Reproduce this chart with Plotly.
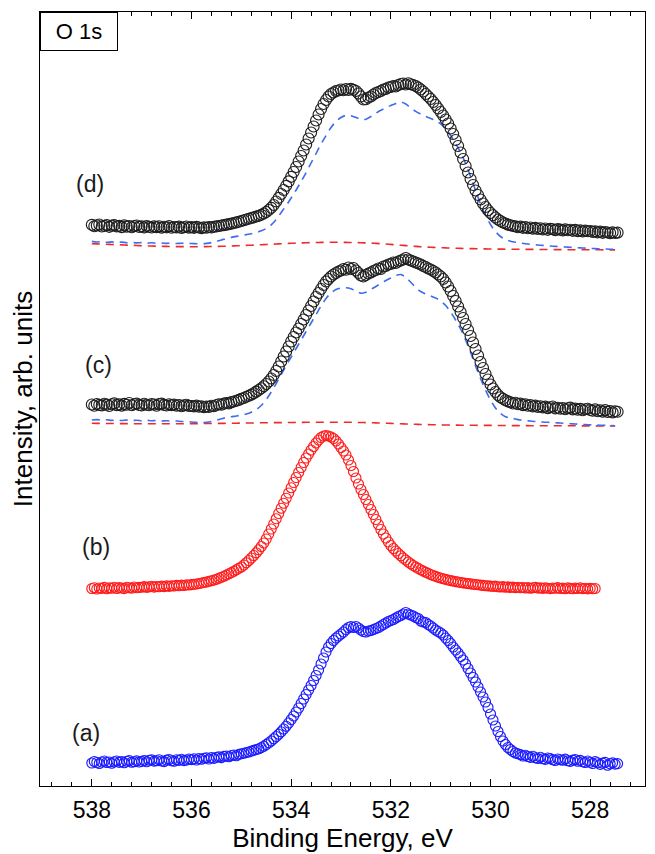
import plotly.graph_objects as go

# ---------------- data (binding energy in eV, intensity in arb. units) ----------------
E_START = 538.0
MARKER_STEP = 0.05
LINE_STEP = 0.1

# (a) blue spectrum
spec_a = [
    37, 38.5, 37.5, 36.5, 38, 39, 37.5, 38, 36.8, 38.2, 39, 37.6, 38.4, 37.2, 38.8, 39.4, 37.8, 38.3, 39.1, 38.0,
    38.6, 39.5, 38.2, 39.8, 40.1, 38.9, 39.3, 40.2, 39.0, 38.4, 39.9, 40.5, 39.2, 38.8, 40.3, 39.6, 40.8, 39.4, 40.0, 41.0,
    40.4, 41.2, 40.0, 41.5, 40.7, 41.8, 42.2, 41.0, 42.5, 41.6, 42.8, 43.2, 42.4, 43.6, 44.0, 43.3, 44.5, 45.0, 44.2, 45.6,
    46.2, 46.8, 47.5, 48.0, 48.9, 49.6, 50.5, 51.2, 52.4, 53.8, 55.5, 57.2, 59.0, 61.2, 63.5, 65.8, 68.2, 71.0, 73.8, 77.0,
    80.5, 84.0, 88.0, 92.0, 96.5, 101, 105.5, 110, 114.5, 119.5, 124.5, 130, 136, 142, 148, 153, 156.5, 159.5, 162, 164,
    166, 168, 170.5, 172.5, 173.5, 172.5, 173.5, 172, 170, 168.5, 168, 169, 169.5, 170.5, 171.5, 172.5, 174, 175.5, 177, 178.5,
    179.5, 180.5, 182, 183.5, 184.5, 186, 187.5, 186, 185, 184, 182.5, 181.5, 179, 178, 177.5, 175.5, 174, 172, 170, 168.5,
    167, 165, 162, 159.5, 156.5, 153, 150, 147, 143.5, 140, 136, 131.5, 127, 122.5, 118, 113, 108, 103, 98, 92.5,
    86, 80, 74, 68.5, 63.5, 59, 55.5, 52.5, 50.5, 48.5, 47.0, 46.2, 45.4, 44.0, 44.8, 43.5, 42.6, 43.8, 42.2, 41.5,
    42.8, 41.2, 40.6, 42.0, 41.4, 40.2, 39.5, 41.0, 40.3, 39.8, 40.9, 39.2, 38.6, 39.9, 40.4, 38.8, 39.6, 38.2, 37.5, 39.0,
    37.8, 36.5, 38.4, 37.2, 35.6, 36.9, 37.6, 34.8, 36.2, 37.1, 35.9, 36.4,
]

# (b) red spectrum
spec_b = [
    211.5, 212.3, 211.0, 212.0, 211.6, 212.6, 211.3, 212.1, 211.8, 212.8, 211.5, 212.4, 212.0, 211.4, 212.7, 212.2, 211.9, 213.0, 212.3, 212.6,
    212.8, 213.4, 212.6, 213.1, 213.7, 212.9, 213.5, 213.2, 213.9, 213.4, 214.1, 213.6, 214.3, 214.0, 214.6, 214.2, 214.9, 214.5, 215.2, 215.0,
    215.4, 215.7, 216.0, 216.5, 217.0, 217.5, 218.0, 218.7, 219.3, 220.0, 220.8, 221.8, 222.8, 223.8, 225.0, 226.2, 227.4, 228.8, 230.2, 231.8,
    233.0, 235, 237.2, 239.5, 242, 244.5, 247.2, 250.2, 253.5, 257, 261, 266, 271, 276, 281.2, 286.5, 291.8, 296.8, 301.8, 307,
    312.3, 317.5, 322.5, 327.5, 332.5, 337.5, 342, 346, 350, 353.5, 357, 360, 362.5, 364, 364.5, 364, 363, 361.5, 359, 356,
    352.5, 349, 345, 340, 334.5, 328.5, 322, 316, 310.5, 305.5, 300.5, 295.5, 290.5, 285.5, 280.5, 275.5, 270.5, 266, 262, 258,
    254.5, 251.5, 249, 246.5, 244.2, 242, 240, 238, 236.2, 234.5, 233, 231.6, 230.2, 229, 227.8, 226.6, 225.5, 224.5, 223.6, 222.8,
    222.0, 221.3, 220.6, 220.0, 219.4, 218.9, 218.4, 218.0, 217.5, 217.1, 216.8, 216.4, 216.1, 215.8, 215.5, 215.2, 214.9, 214.6, 214.3, 214.1,
    213.9, 213.6, 213.9, 213.3, 213.0, 213.4, 212.8, 213.1, 212.6, 212.9, 212.4, 212.7, 212.2, 212.5, 212.0, 212.4, 211.8, 212.2, 212.6, 211.9,
    212.1, 211.6, 212.3, 211.8, 211.4, 212.0, 211.7, 212.4, 211.5, 211.9, 211.3, 212.1, 211.6, 211.2, 211.9, 211.5, 212.2, 211.4, 211.8, 211.1,
    211.6, 211.2, 211.5,
]

# (c) black spectrum
spec_c = [
    395.5, 394.2, 396.0, 395.1, 394.6, 396.3, 395.4, 394.0, 395.8, 396.6, 394.9, 395.6, 394.4, 396.1, 395.2, 397.0, 394.8, 395.7, 396.4, 395.0,
    394.6, 396.2, 395.3, 394.7, 396.0, 395.5, 394.3, 395.9, 396.4, 395.1, 394.5, 395.8, 394.9, 395.4, 394.2, 395.0, 393.8, 394.6, 395.3, 394.1,
    394.0, 393.6, 394.4, 393.2, 393.8, 392.9, 393.5, 393.1, 394.2, 393.7, 395.0, 395.8, 395.2, 396.4, 397.0, 396.6, 397.9, 398.5, 399.2, 400.1,
    401.2, 402.0, 403.2, 404.2, 405.4, 406.8, 408.4, 410.0, 411.8, 413.8, 416.0, 418.5, 421.5, 425.0, 429.0, 433.5, 438.5, 443.5, 448.5, 453.5,
    458.5, 463, 467.5, 471.5, 476, 480.5, 485, 489.5, 494, 498.5, 503, 507, 511, 515, 518.5, 521, 523.5, 525.5, 527, 528.5,
    529.5, 531, 530.2, 532.5, 531, 532, 529.5, 527, 524.5, 523.5, 525, 526.5, 527.5, 529, 530, 531.5, 531, 533.5, 534, 535.5,
    536, 537.5, 537, 538.5, 539.5, 540.5, 542, 540.5, 539.5, 538.5, 537.5, 536.5, 535.5, 534, 533, 531.5, 530.5, 529, 527.5, 525.5,
    523.5, 521, 517.5, 513.5, 509, 504, 499, 493.5, 488, 482, 476, 470, 464, 457.5, 451, 444.5, 438, 432, 426, 420.5,
    415.5, 411.5, 408, 405, 402.8, 401.2, 399.8, 398.6, 397.8, 396.5, 397.2, 395.8, 396.4, 394.9, 395.6, 394.3, 395.0, 393.6, 394.4, 393.0,
    393.8, 392.6, 393.4, 391.9, 392.8, 393.5, 391.6, 392.3, 391.2, 392.0, 390.8, 391.7, 392.4, 390.6, 391.4, 390.2, 391.1, 389.8, 390.7, 391.3,
    390.0, 389.2, 390.6, 388.8, 389.6, 388.4, 389.9, 388.1, 389.0, 387.6, 388.7, 388.2,
]

# (c) fit components (dashed)
fit_c_blue = [
    380.0, 380.4, 379.8, 380.2, 379.6, 380.0, 379.5, 379.9, 379.4, 379.8,
    379.3, 379.7, 379.2, 379.5, 379.0, 379.3, 378.8, 379.0, 378.5, 378.6,
    378.0, 377.6, 377.4, 377.8, 378.6, 379.8, 381.2, 382.5, 383.3, 384.0,
    384.8, 386.0, 387.8, 390.4, 394.5, 400.5, 408.0, 416.5, 425.5, 434.5,
    443.0, 451.5, 460.0, 468.5, 477.0, 485.5, 494.0, 501.5, 507.0, 510.5,
    512.0, 512.2, 511.2, 509.0, 506.8, 507.8, 510.5, 513.5, 516.5, 519.5,
    522.0, 524.5, 525.5, 522.5, 517.8, 512.5, 508.5, 506.0, 504.0, 502.0,
    499.0, 494.5, 488.0, 480.0, 471.0, 460.0, 447.5, 434.0, 421.5, 410.0,
    400.0, 392.0, 386.5, 383.3, 382.0, 381.0, 380.0, 379.4, 379.0, 378.5,
    378.2, 377.8, 377.6, 377.2, 377.0, 376.6, 376.3, 376.0, 375.7, 375.4,
    375.2, 375.0, 374.8, 374.6, 374.4, 374.3,
]
fit_c_red = [
    376.7, 376.6, 376.6, 376.5, 376.5, 376.4, 376.4, 376.4, 376.3, 376.3,
    376.3, 376.2, 376.2, 376.2, 376.2, 376.2, 376.2, 376.2, 376.3, 376.3,
    376.3, 376.4, 376.4, 376.5, 376.5, 376.6, 376.6, 376.7, 376.8, 376.8,
    376.9, 377.0, 377.0, 377.1, 377.2, 377.2, 377.3, 377.4, 377.4, 377.5,
    377.5, 377.6, 377.6, 377.7, 377.7, 377.7, 377.8, 377.8, 377.8, 377.8,
    377.8, 377.7, 377.7, 377.6, 377.5, 377.4, 377.3, 377.1, 377.0, 376.8,
    376.6, 376.4, 376.2, 376.0, 375.8, 375.7, 375.5, 375.4, 375.3, 375.2,
    375.1, 375.0, 374.9, 374.9, 374.8, 374.8, 374.7, 374.7, 374.6, 374.6,
    374.6, 374.5, 374.5, 374.5, 374.4, 374.4, 374.4, 374.4, 374.3, 374.3,
    374.3, 374.3, 374.3, 374.2, 374.2, 374.2, 374.2, 374.2, 374.1, 374.1,
    374.1, 374.1, 374.0, 374.0, 374.0, 374.0,
]

# (d) black spectrum
spec_d = [
    575.2, 573.8, 574.6, 575.5, 573.5, 574.2, 574.9, 573.2, 574.4, 575.0, 573.6, 574.1, 572.9, 574.7, 573.4, 574.0, 572.8, 573.9, 574.5, 573.1,
    573.7, 572.6, 574.0, 573.2, 572.5, 573.6, 572.9, 573.8, 572.4, 573.3, 572.7, 573.9, 572.3, 573.0, 572.6, 573.4, 572.1, 572.8, 573.5, 572.4,
    572.9, 572.2, 573.1, 572.5, 571.9, 572.8, 572.3, 573.0, 572.6, 573.3, 573.6, 574.0, 574.5, 574.9, 575.4, 575.9, 576.4, 577.0, 577.6, 578.3,
    579.0, 579.8, 580.5, 581.3, 582.0, 582.7, 583.5, 584.2, 585.2, 586.5, 588.0, 590.0, 592.2, 595.0, 598.5, 602.2, 606.0, 610.0, 614.2, 618.6,
    623.2, 628, 633, 638.5, 644, 649.5, 655.5, 661.5, 667.5, 673.5, 679.5, 685.5, 691, 696, 700, 703.5, 706, 707.5, 709, 709.5,
    710.5, 709.8, 711, 710, 711.2, 710.2, 709, 706.5, 703.5, 700.5, 700.8, 702.5, 703.5, 705.5, 707, 708, 709, 710.5, 711, 712.5,
    713, 714, 713.5, 715, 716, 716.5, 715.5, 716.8, 715.8, 715, 714, 712.5, 710.5, 708.5, 706, 703.5, 701, 698, 695, 691.5,
    688, 684.5, 680.5, 676.5, 671.5, 666, 660, 654, 647.5, 641, 634, 627.5, 621, 615, 609.5, 605, 600.5, 596.5, 593, 589.8,
    587, 584.8, 582.5, 580.5, 579, 577.5, 576.5, 575.4, 574.8, 574.0, 573.6, 572.8, 573.4, 572.2, 572.9, 571.8, 572.5, 571.4, 572.1, 571.0,
    571.8, 570.6, 571.5, 570.2, 571.2, 570.8, 569.9, 571.0, 570.4, 569.6, 570.7, 569.8, 570.3, 569.2, 570.1, 568.9, 569.7, 568.6, 569.4, 568.8,
    569.0, 568.1, 568.7, 567.6, 568.4, 567.2, 568.0, 567.5, 566.9, 567.8, 567.0, 567.4,
]

# (d) fit components (dashed)
fit_d_blue = [
    558.6, 558.0, 558.4, 557.7, 558.1, 557.5, 557.9, 557.3, 557.6, 557.1,
    557.4, 556.9, 557.2, 556.7, 557.0, 556.6, 556.9, 556.5, 556.7, 556.4,
    556.5, 556.3, 556.2, 556.6, 557.4, 558.6, 560.0, 561.5, 562.6, 563.6,
    564.5, 565.4, 566.3, 567.5, 569.2, 571.6, 575.2, 580.5, 587.5, 594.5,
    602.0, 610.0, 618.5, 627.5, 637.0, 646.5, 656.0, 664.5, 672.5, 678.5,
    682.5, 684.6, 684.2, 682.5, 680.6, 680.8, 683.5, 686.8, 689.8, 692.2,
    694.5, 696.6, 698.0, 696.0, 692.0, 688.6, 686.0, 683.6, 681.5, 679.5,
    676.0, 671.0, 664.5, 656.5, 647.5, 636.5, 623.5, 609.5, 596.0, 584.5,
    575.5, 568.5, 563.5, 560.5, 558.8, 557.8, 557.0, 556.3, 555.7, 555.2,
    554.8, 554.4, 554.0, 553.6, 553.3, 553.0, 552.7, 552.4, 552.1, 551.9,
    551.6, 551.4, 551.2, 551.0, 550.8, 550.7,
]
fit_d_red = [
    556.3, 556.1, 555.9, 555.7, 555.5, 555.3, 555.1, 554.9, 554.7, 554.5,
    554.3, 554.1, 554.0, 553.8, 553.7, 553.6, 553.5, 553.4, 553.4, 553.3,
    553.3, 553.3, 553.3, 553.4, 553.5, 553.6, 553.7, 553.8, 554.0, 554.2,
    554.4, 554.6, 554.8, 555.0, 555.3, 555.5, 555.8, 556.0, 556.3, 556.5,
    556.7, 556.9, 557.1, 557.3, 557.4, 557.5, 557.6, 557.7, 557.7, 557.7,
    557.7, 557.6, 557.5, 557.4, 557.3, 557.1, 556.9, 556.6, 556.3, 556.0,
    555.6, 555.2, 554.8, 554.4, 554.0, 553.6, 553.3, 553.0, 552.7, 552.5,
    552.3, 552.1, 551.9, 551.8, 551.6, 551.5, 551.4, 551.3, 551.2, 551.1,
    551.0, 550.9, 550.9, 550.8, 550.8, 550.7, 550.7, 550.6, 550.6, 550.6,
    550.5, 550.5, 550.5, 550.4, 550.4, 550.4, 550.3, 550.3, 550.3, 550.3,
    550.2, 550.2, 550.2, 550.1, 550.1, 550.1,
]

panel_labels = ["(a)", "(b)", "(c)", "(d)"]
panel_label_x = [538.12, 537.92, 537.86, 538.03]
panel_label_y = [67, 253, 435, 616]

x_ticks = [538, 536, 534, 532, 530, 528]
X_RANGE = [539.04, 526.9]
Y_RANGE = [14, 788]


def energies(values, step):
    return [round(E_START - step * i, 3) for i in range(len(values))]


FONT = "Liberation Sans, Arial, sans-serif"
BLACK_M = "#1e1e1e"
RED_M = "#ff1a1a"
BLUE_M = "#1a1aff"
BLUE_DASH = "#3d6cf0"
RED_DASH = "#f02a2a"

fig = go.Figure()


def add_markers(vals, color, size):
    fig.add_trace(go.Scatter(
        x=energies(vals, MARKER_STEP), y=vals, mode="markers",
        marker=dict(symbol="circle-open", size=size, color=color, line=dict(width=1.15, color=color)),
        showlegend=False, hoverinfo="skip"))


def add_dash(vals, color):
    fig.add_trace(go.Scatter(
        x=energies(vals, LINE_STEP), y=vals, mode="lines",
        line=dict(color=color, width=1.6, dash="8px,6px", shape="spline"),
        showlegend=False, hoverinfo="skip"))


add_dash(fit_d_red, RED_DASH)
add_dash(fit_d_blue, BLUE_DASH)
add_dash(fit_c_red, RED_DASH)
add_dash(fit_c_blue, BLUE_DASH)
add_markers(spec_a, BLUE_M, 10)
add_markers(spec_b, RED_M, 10)
add_markers(spec_c, BLACK_M, 11)
add_markers(spec_d, BLACK_M, 11)

for lab, lx, ly in zip(panel_labels, panel_label_x, panel_label_y):
    fig.add_annotation(x=lx, y=ly, text=lab, showarrow=False, xref="x", yref="y",
                       font=dict(family=FONT, size=23, color="#1a1a1a"))

fig.add_annotation(x=0, y=1, xref="paper", yref="paper", xanchor="left", yanchor="top",
                   text="O 1s", showarrow=False, font=dict(family=FONT, size=22, color="black"),
                   bordercolor="black", borderwidth=1, borderpad=3, width=70, height=31,
                   bgcolor="white", align="center")

# the page body adds an 8 px margin, so the figure is sized to fit inside the window
fig.update_layout(
    width=647, height=846,
    margin=dict(l=32, r=10, t=4, b=68),
    paper_bgcolor="white", plot_bgcolor="white",
    font=dict(family=FONT, color="black"),
    xaxis=dict(
        range=X_RANGE, tickvals=x_ticks, ticktext=[str(t) for t in x_ticks],
        ticks="inside", ticklen=7, tickwidth=1, tickcolor="black",
        minor=dict(dtick=0.4, tick0=528, ticks="inside", ticklen=4, tickwidth=1, tickcolor="black"),
        showline=True, linecolor="black", linewidth=1, mirror="allticks",
        showgrid=False, zeroline=False, automargin=False,
        tickfont=dict(family=FONT, size=23, color="black"),
        ticklabelstandoff=3,
        title=dict(text="Binding Energy, eV", font=dict(family=FONT, size=26, color="black"), standoff=0),
    ),
    yaxis=dict(
        range=Y_RANGE, showticklabels=False, ticks="",
        showline=True, linecolor="black", linewidth=1, mirror=True,
        showgrid=False, zeroline=False, automargin=False,
        title=dict(text="Intensity, arb. units", font=dict(family=FONT, size=26, color="black"), standoff=4),
    ),
)

fig.write_html("out.html")
